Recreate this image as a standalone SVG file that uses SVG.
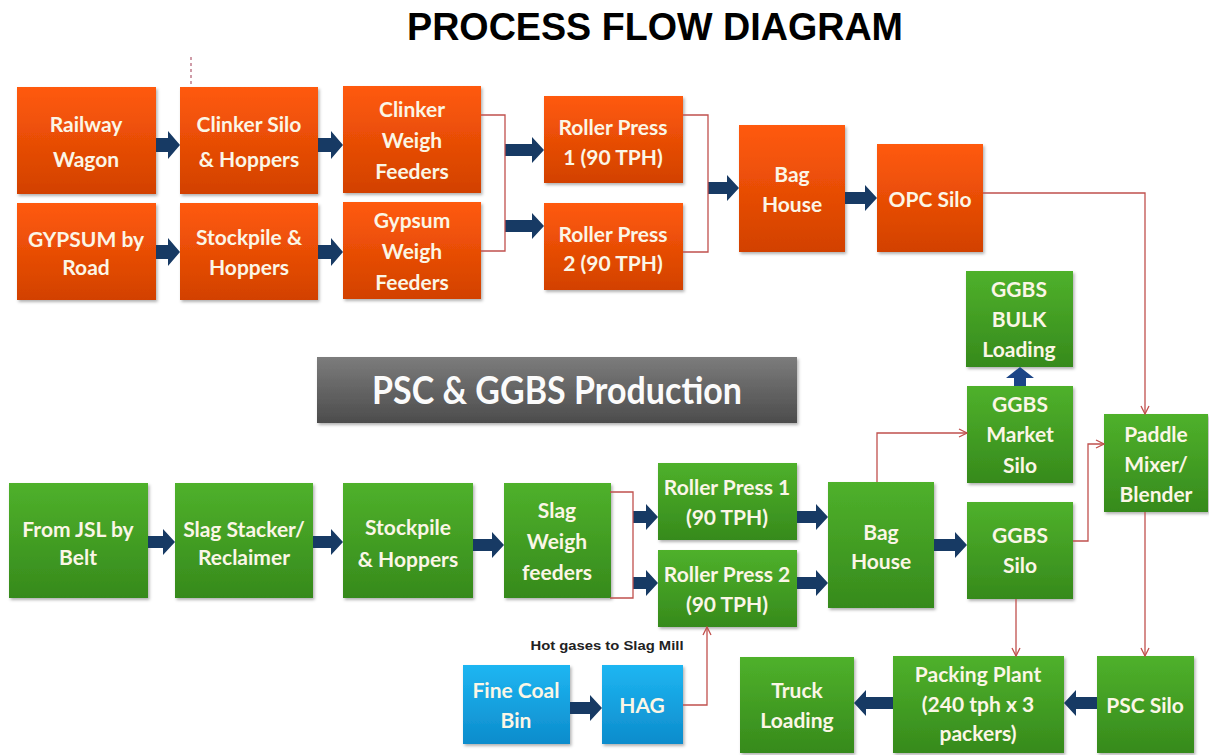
<svg xmlns="http://www.w3.org/2000/svg" width="1209" height="755" viewBox="0 0 1209 755">
<defs>
<linearGradient id="gO" x1="0" y1="0" x2="0" y2="1"><stop offset="0" stop-color="#ff5a0c"/><stop offset="1" stop-color="#d24100"/></linearGradient>
<linearGradient id="gG" x1="0" y1="0" x2="0" y2="1"><stop offset="0" stop-color="#4fb12b"/><stop offset="1" stop-color="#368a1c"/></linearGradient>
<linearGradient id="gB" x1="0" y1="0" x2="0" y2="1"><stop offset="0" stop-color="#1eb6f2"/><stop offset="1" stop-color="#0d8ccc"/></linearGradient>
<linearGradient id="gY" x1="0" y1="0" x2="0" y2="1"><stop offset="0" stop-color="#7c7c7c"/><stop offset="1" stop-color="#4c4c4c"/></linearGradient>
<filter id="sh" x="-10%" y="-10%" width="125%" height="130%"><feDropShadow dx="1.5" dy="2" stdDeviation="1.5" flood-color="#000" flood-opacity="0.3"/></filter>
<marker id="ah" viewBox="0 0 10 10" refX="9" refY="5" markerWidth="10" markerHeight="10" markerUnits="userSpaceOnUse" orient="auto"><path d="M1,1 L9,5 L1,9" fill="none" stroke="#c0504d" stroke-width="1.3"/></marker>
</defs>
<style>
.o{fill:url(#gO);filter:url(#sh)}
.g{fill:url(#gG);filter:url(#sh)}
.b{fill:url(#gB);filter:url(#sh)}
.t{font-family:Lato,"Open Sans",sans-serif;font-weight:bold;font-size:21px;fill:#fbf6e6;text-anchor:middle}
.ba{fill:#173a64}
.rl{fill:none;stroke:#c0504d;stroke-width:1.3}
</style>
<rect width="1209" height="755" fill="#fff"/>
<text x="655" y="40" font-family="Liberation Sans,Arial,sans-serif" font-weight="bold" font-size="39" fill="#000" text-anchor="middle" textLength="496" lengthAdjust="spacingAndGlyphs">PROCESS FLOW DIAGRAM</text>
<line x1="191" y1="57" x2="191" y2="87" stroke="#b05a6e" stroke-width="1.2" stroke-dasharray="3,3"/>

<g id="banner"><rect x="317" y="357" width="480" height="66" fill="url(#gY)" filter="url(#sh)"/><text x="557" y="404" font-family="Lato,sans-serif" font-weight="bold" font-size="38" fill="#fbfbfb" text-anchor="middle" textLength="370" lengthAdjust="spacingAndGlyphs">PSC &amp; GGBS Production</text></g>

<g id="railway"><rect class="o" x="17" y="87" width="139" height="107"/><text class="t" font-size="22" x="86" y="132">Railway</text><text class="t" font-size="22" x="86" y="167">Wagon</text></g>
<g id="clinkerSilo"><rect class="o" x="180" y="87" width="138" height="107"/><text class="t" x="249" y="132">Clinker Silo</text><text class="t" x="249" y="167">&amp; Hoppers</text></g>
<g id="gypsumRoad"><rect class="o" x="17" y="203" width="139" height="97"/><text class="t" x="86" y="247">GYPSUM by</text><text class="t" x="86" y="275">Road</text></g>
<g id="stockpileTop"><rect class="o" x="180" y="203" width="138" height="97"/><text class="t" x="249" y="245">Stockpile &amp;</text><text class="t" x="249" y="275">Hoppers</text></g>
<g id="clinkerFeeders"><rect class="o" x="343" y="86" width="138" height="107"/><text class="t" x="412" y="117">Clinker</text><text class="t" x="412" y="148">Weigh</text><text class="t" x="412" y="179">Feeders</text></g>
<g id="gypsumFeeders"><rect class="o" x="343" y="202" width="138" height="97"/><text class="t" x="412" y="228">Gypsum</text><text class="t" x="412" y="259">Weigh</text><text class="t" x="412" y="290">Feeders</text></g>
<g id="rp1Top"><rect class="o" x="544" y="96" width="139" height="87"/><text class="t" x="613" y="135">Roller Press</text><text class="t" x="613" y="165">1 (90 TPH)</text></g>
<g id="rp2Top"><rect class="o" x="544" y="203" width="139" height="87"/><text class="t" x="613" y="242">Roller Press</text><text class="t" x="613" y="271">2 (90 TPH)</text></g>
<g id="bagHouseTop"><rect class="o" x="739" y="125" width="106" height="127"/><text class="t" x="792" y="182">Bag</text><text class="t" x="792" y="212">House</text></g>
<g id="opcSilo"><rect class="o" x="877" y="144" width="106" height="108"/><text class="t" x="930" y="207">OPC Silo</text></g>

<g id="ggbsBulk"><rect class="g" x="966" y="271" width="107" height="96"/><text class="t" x="1019" y="297">GGBS</text><text class="t" x="1019" y="327">BULK</text><text class="t" x="1019" y="357">Loading</text></g>
<g id="ggbsMarket"><rect class="g" x="967" y="386" width="106" height="97"/><text class="t" x="1020" y="412">GGBS</text><text class="t" x="1020" y="442">Market</text><text class="t" x="1020" y="473">Silo</text></g>
<g id="paddle"><rect class="g" x="1104" y="414" width="104" height="98"/><text class="t" x="1156" y="442">Paddle</text><text class="t" x="1156" y="472">Mixer/</text><text class="t" x="1156" y="502">Blender</text></g>
<g id="ggbsSilo"><rect class="g" x="967" y="502" width="106" height="97"/><text class="t" x="1020" y="543">GGBS</text><text class="t" x="1020" y="573">Silo</text></g>
<g id="packing"><rect class="g" x="893" y="656" width="171" height="97"/><text class="t" x="978" y="682">Packing Plant</text><text class="t" x="978" y="712">(240 tph x 3</text><text class="t" x="978" y="741">packers)</text></g>
<g id="pscSilo"><rect class="g" x="1097" y="656" width="97" height="97"/><text class="t" x="1145" y="713">PSC Silo</text></g>
<g id="truck"><rect class="g" x="740" y="657" width="114" height="96"/><text class="t" x="797" y="698">Truck</text><text class="t" x="797" y="728">Loading</text></g>
<g id="jsl"><rect class="g" x="9" y="483" width="139" height="115"/><text class="t" x="78" y="537">From JSL by</text><text class="t" x="78" y="565">Belt</text></g>
<g id="slagStacker"><rect class="g" x="175" y="483" width="138" height="115"/><text class="t" x="244" y="537">Slag Stacker/</text><text class="t" x="244" y="565">Reclaimer</text></g>
<g id="stockpileBottom"><rect class="g" x="343" y="483" width="130" height="115"/><text class="t" font-size="23" x="408" y="535">Stockpile</text><text class="t" font-size="23" x="408" y="567">&amp; Hoppers</text></g>
<g id="slagFeeders"><rect class="g" x="504" y="483" width="107" height="115"/><text class="t" x="557" y="518">Slag</text><text class="t" x="557" y="549">Weigh</text><text class="t" x="557" y="580">feeders</text></g>
<g id="rp1Bottom"><rect class="g" x="658" y="463" width="139" height="77"/><text class="t" x="727" y="495">Roller Press 1</text><text class="t" x="727" y="525">(90 TPH)</text></g>
<g id="rp2Bottom"><rect class="g" x="658" y="550" width="139" height="77"/><text class="t" x="727" y="582">Roller Press 2</text><text class="t" x="727" y="612">(90 TPH)</text></g>
<g id="bagHouseBottom"><rect class="g" x="828" y="482" width="106" height="126"/><text class="t" x="881" y="540">Bag</text><text class="t" x="881" y="569">House</text></g>
<g id="fineCoal"><rect class="b" x="463" y="665" width="107" height="79"/><text class="t" x="516" y="698">Fine Coal</text><text class="t" x="516" y="728">Bin</text></g>
<g id="hag"><rect class="b" x="602" y="665" width="81" height="79"/><text class="t" x="642" y="713">HAG</text></g>

<g id="connectors">
<polygon class="ba" points="156,138 168,138 168,131 180,145 168,159 168,152 156,152"/>
<polygon class="ba" points="318,138 331,138 331,131 343,145 331,159 331,152 318,152"/>
<polygon class="ba" points="156,245 168,245 168,238 180,252 168,266 168,259 156,259"/>
<polygon class="ba" points="318,245 331,245 331,238 343,252 331,266 331,259 318,259"/>
<polygon class="ba" points="505,144 532,144 532,137 544,150 532,163 532,156 505,156"/>
<polygon class="ba" points="505,220 532,220 532,213 544,226 532,239 532,232 505,232"/>
<polygon class="ba" points="708,182 727,182 727,175 739,188 727,201 727,194 708,194"/>
<polygon class="ba" points="845,192 865,192 865,185 877,198 865,211 865,204 845,204"/>
<polygon class="ba" points="148,536 163,536 163,529 175,542 163,555 163,548 148,548"/>
<polygon class="ba" points="313,536 331,536 331,529 343,542 331,555 331,548 313,548"/>
<polygon class="ba" points="473,539 492,539 492,532 504,545 492,558 492,551 473,551"/>
<polygon class="ba" points="633,511 646,511 646,504 658,517 646,530 646,523 633,523"/>
<polygon class="ba" points="633,577 646,577 646,570 658,583 646,596 646,589 633,589"/>
<polygon class="ba" points="797,511 816,511 816,504 828,517 816,530 816,523 797,523"/>
<polygon class="ba" points="797,577 816,577 816,570 828,583 816,596 816,589 797,589"/>
<polygon class="ba" points="934,539 955,539 955,532 967,545 955,558 955,551 934,551"/>
<polygon class="ba" points="570,702 590,702 590,695 602,708 590,721 590,714 570,714"/>
<polygon class="ba" points="1097,697 1076,697 1076,690 1064,703 1076,716 1076,709 1097,709"/>
<polygon class="ba" points="893,697 866,697 866,690 854,703 866,716 866,709 893,709"/>
<polygon fill="#1c4587" points="1014,386 1014,378 1006,378 1020,367 1034,378 1026,378 1026,386"/>
<polyline class="rl" points="481,115 505,115 505,251 481,251"/>
<polyline class="rl" points="683,115 708,115 708,252 683,252"/>
<polyline class="rl" points="610,492 633,492 633,598 610,598"/>
<polyline class="rl" points="983,193 1145,193 1145,414" marker-end="url(#ah)"/>
<polyline class="rl" points="877,482 877,433 967,433" marker-end="url(#ah)"/>
<polyline class="rl" points="1073,541 1088,541 1088,444 1104,444" marker-end="url(#ah)"/>
<polyline class="rl" points="1145,512 1145,656" marker-end="url(#ah)"/>
<polyline class="rl" points="1016,599 1016,656" marker-end="url(#ah)"/>
<polyline class="rl" points="683,705 707,705 707,627" marker-end="url(#ah)"/>
</g>
<text x="607" y="650" font-family="Liberation Sans,Arial,sans-serif" font-weight="bold" font-size="13" fill="#222" text-anchor="middle" textLength="153" lengthAdjust="spacingAndGlyphs">Hot gases to Slag Mill</text>
</svg>
